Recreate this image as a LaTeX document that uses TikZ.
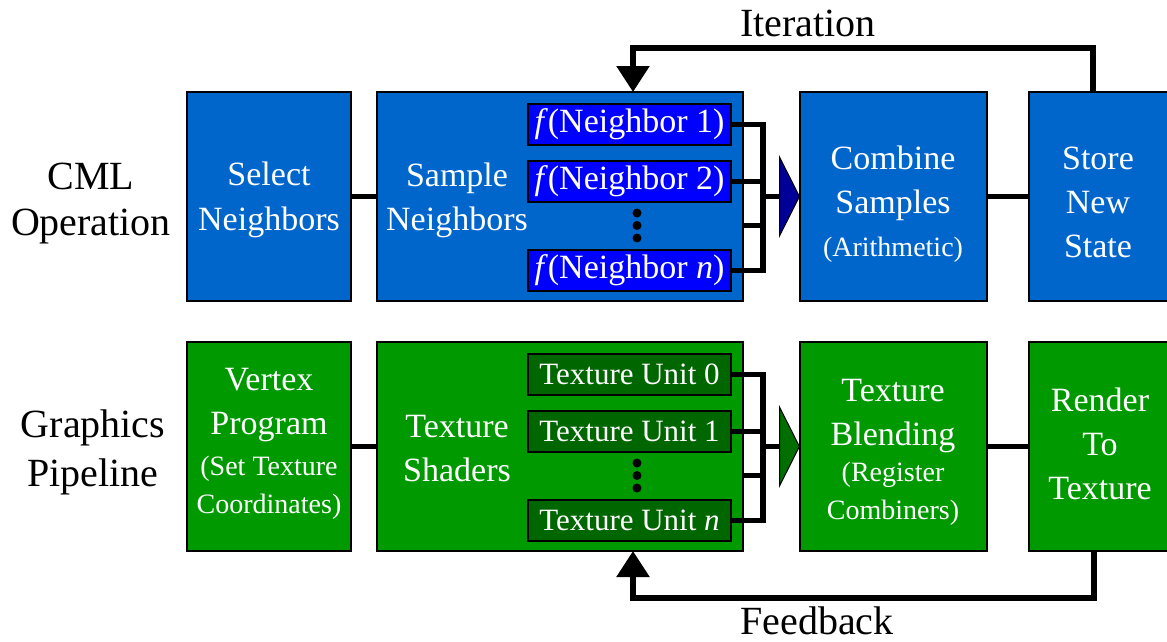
\documentclass[tikz,border=0pt]{standalone}
\usepackage{fontspec}
\setmainfont{Liberation Serif}
\usetikzlibrary{arrows.meta}
\definecolor{cmlblue}{RGB}{0,102,204}
\definecolor{fblue}{RGB}{0,0,255}
\definecolor{arrblue}{RGB}{0,0,153}
\definecolor{gpgreen}{RGB}{0,153,0}
\definecolor{tugreen}{RGB}{0,102,0}
\definecolor{arrgreen}{RGB}{0,110,0}
\newcommand{\smallf}{\fontsize{28}{38}\selectfont}
\begin{document}
\begin{tikzpicture}[x=1pt,y=-1pt,
  stage/.style={draw=black, line width=1.8pt, inner sep=0pt, outer sep=0pt, minimum height=209pt},
  blue stage/.style={stage, fill=cmlblue},
  green stage/.style={stage, fill=gpgreen},
  sub/.style={draw=black, line width=1.8pt, inner sep=0pt, outer sep=0pt, minimum width=203pt, minimum height=41pt, text=white},
  fsub/.style={sub, fill=fblue, font=\fontsize{34}{34}\selectfont},
  tsub/.style={sub, fill=tugreen, font=\fontsize{31}{31}\selectfont},
  wtext/.style={text=white, align=center, inner sep=0pt, font=\fontsize{34}{44}\selectfont},
  label/.style={text=black, align=center, inner sep=0pt, font=\fontsize{40}{47}\selectfont},
  conn/.style={line width=5.5pt},
  dotc/.style={circle, fill=black, inner sep=0pt, minimum size=9pt},
  loop tip/.style={-{Triangle[length=26pt,width=32pt]}}
]
\clip (0,0) rectangle (1167,641);

% left labels
\node[label] (cml) at (91,204) {CML\\[-1pt]Operation};
\node[label] (gp) at (93,452) {Graphics\\[2pt]Pipeline};

% top row
\node[blue stage, minimum width=164pt] (sel) at (269,196.5) {};
\node[blue stage, minimum width=366pt] (samp) at (560,196.5) {};
\node[blue stage, minimum width=187pt] (comb) at (893.5,196.5) {};
\node[blue stage, minimum width=180pt] (store) at (1119,196.5) {};

\node[wtext] (selT) at (269,200) {Select\\[1pt]Neighbors};
\node[wtext] (sampT) at (457,200) {Sample\\Neighbors};
\node[wtext] (combT) at (893,204) {Combine\\Samples\\[-1pt]{\smallf (Arithmetic)}};
\node[wtext] (storeT) at (1098,202) {Store\\New\\State};

\node[fsub] (n1) at (629.5,124.5) {\textit{f}(Neighbor 1)};
\node[fsub] (n2) at (629.5,181.5) {\textit{f}(Neighbor 2)};
\node[fsub] (nn) at (629.5,270.5) {\textit{f}(Neighbor \textit{n})};
\node[dotc] (d1) at (637,213) {};
\node[dotc] (d2) at (637,225.5) {};
\node[dotc] (d3) at (637,238) {};

% bottom row
\node[green stage, minimum width=164pt] (vert) at (269,446.5) {};
\node[green stage, minimum width=366pt] (shad) at (560,446.5) {};
\node[green stage, minimum width=187pt] (blend) at (893.5,446.5) {};
\node[green stage, minimum width=180pt] (rend) at (1119,446.5) {};

\node[wtext] (vertT) at (269,443.5) {Vertex\\Program\\[-3pt]{\smallf (Set Texture}\\[-6pt]{\smallf Coordinates)}};
\node[wtext] (shadT) at (457,448.5) {Texture\\Shaders};
\node[wtext] (blendT) at (893,452) {Texture\\Blending\\[-8pt]{\smallf (Register}\\[-6pt]{\smallf Combiners)}};
\node[wtext] (rendT) at (1100,443.5) {Render\\To\\Texture};

\node[tsub] (t0) at (629.5,374.5) {Texture Unit 0};
\node[tsub] (t1) at (629.5,431.5) {Texture Unit 1};
\node[tsub] (tn) at (629.5,520.5) {Texture Unit \textit{n}};
\node[dotc] (e1) at (637,463) {};
\node[dotc] (e2) at (637,475.5) {};
\node[dotc] (e3) at (637,488) {};

% connectors top
\draw[conn] (sel.east) -- (samp.west);
\draw[conn] (comb.east) -- (store.west);
\coordinate (bxT) at (763,196.5);
\coordinate (dlT) at (743,225.5);
\draw[conn] (n1.east) -| (bxT);
\draw[conn] (nn.east) -| (bxT);
\draw[conn] (n2.east) -- (n2.east -| bxT);
\draw[conn] (dlT) -- (dlT -| bxT);
\draw[conn, -{Triangle[length=21pt,width=83pt,line width=1pt,fill=arrblue,color=black]}] (bxT) -- (comb.west);

% connectors bottom
\draw[conn] (vert.east) -- (shad.west);
\draw[conn] (blend.east) -- (rend.west);
\coordinate (bxB) at (763,446.5);
\coordinate (dlB) at (743,475.5);
\draw[conn] (t0.east) -| (bxB);
\draw[conn] (tn.east) -| (bxB);
\draw[conn] (t1.east) -- (t1.east -| bxB);
\draw[conn] (dlB) -- (dlB -| bxB);
\draw[conn, -{Triangle[length=21pt,width=83pt,line width=1pt,fill=arrgreen,color=black]}] (bxB) -- (blend.west);

% iteration loop
\coordinate (itS) at (1093,92);
\coordinate (itM) at (633,48);
\draw[conn, loop tip] (itS) |- (itM) -- (itM |- samp.north);
\node[label, anchor=base] (iter) at (808,36) {Iteration};

% feedback loop
\coordinate (fbS) at (1094,551);
\coordinate (fbM) at (633,598);
\draw[conn, loop tip] (fbS) |- (fbM) -- (fbM |- shad.south);
\node[label, anchor=base] (feed) at (817,634) {Feedback};
\end{tikzpicture}
\end{document}
